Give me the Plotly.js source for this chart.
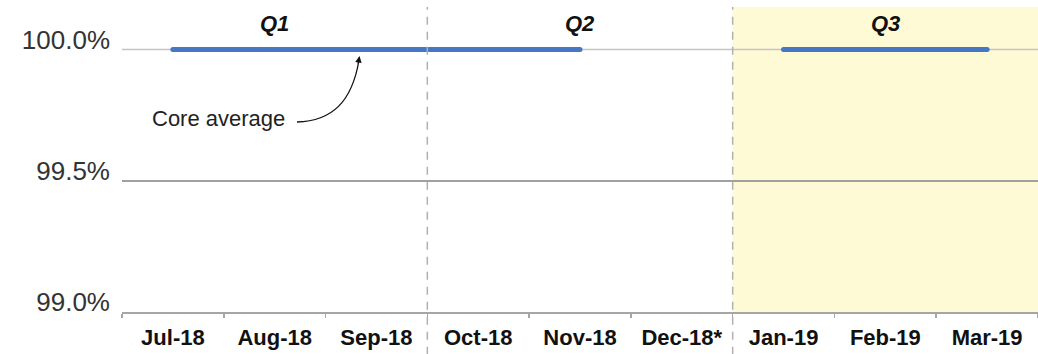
<!DOCTYPE html>
<html>
<head>
<meta charset="utf-8">
<script src="https://cdn.plot.ly/plotly-3.0.1.min.js"></script>
<style>html,body{margin:0;padding:0;background:#fff;}#chart{width:1038px;height:354px;}
#chart path.js-line{stroke-linecap:round;}</style>
</head>
<body>
<div id="chart"></div>
<script>
// ---- data ----
const months = ['Jul-18','Aug-18','Sep-18','Oct-18','Nov-18','Dec-18*','Jan-19','Feb-19','Mar-19'];
const coreAverage = [100.0, 100.0, 100.0, 100.0, 100.0, null, 100.0, 100.0, 100.0];
const quarters = ['Q1','Q2','Q3'];
const quarterLabelMonth = ['Aug-18','Nov-18','Feb-19'];
const yTickVals = [99.0, 99.5, 100.0];
const yTickText = ['99.0%','99.5%','100.0%'];
const annotationText = 'Core average';

// ---- layout helpers (pixel -> paper) ----
const W = 1038, H = 354, L = 122, R = 0, T = 7, B = 42;
const pw = W - L - R, ph = H - T - B;
const px = x => (x - L) / pw;
const py = y => (H - B - y) / ph;

const trace = {
  x: months,
  y: coreAverage,
  type: 'scatter',
  mode: 'lines',
  connectgaps: false,
  line: {color: '#4677c4', width: 5},
  hoverinfo: 'skip',
  showlegend: false
};

const sans = 'Liberation Sans, Arial, sans-serif';

const annotations = quarters.map((q, i) => ({
  x: quarterLabelMonth[i], xref: 'x',
  y: py(23), yref: 'paper',
  text: '<b><i>' + q + '</i></b>',
  showarrow: false,
  font: {family: sans, size: 22, color: '#111'},
  xanchor: 'center', yanchor: 'middle'
}));

annotations.push({
  x: px(218), xref: 'paper', y: py(118), yref: 'paper',
  text: annotationText, showarrow: false,
  font: {family: sans, size: 22, color: '#222'},
  xanchor: 'center', yanchor: 'middle'
});
// arrow head of the curved pointer
annotations.push({
  x: px(359.5), xref: 'paper', y: py(56), yref: 'paper',
  text: '', showarrow: true, arrowhead: 2, arrowsize: 1, arrowwidth: 1.3,
  arrowcolor: '#111', ax: -1.5, ay: 9, axref: 'pixel', ayref: 'pixel',
  standoff: 0, startstandoff: 0
});

const shapes = [
  {type: 'rect', xref: 'x', yref: 'paper', x0: 5.5, x1: 8.5, y0: 0, y1: 1,
   fillcolor: '#fffad6', line: {width: 0}, layer: 'below'},
  {type: 'line', xref: 'x', yref: 'paper', x0: 2.5, x1: 2.5, y0: -0.14, y1: 1,
   line: {color: '#b0b0b0', width: 1.5, dash: '8px,7px'}, layer: 'above'},
  {type: 'line', xref: 'x', yref: 'paper', x0: 5.5, x1: 5.5, y0: -0.14, y1: 1,
   line: {color: '#b0b0b0', width: 1.5, dash: '8px,7px'}, layer: 'above'},
  {type: 'path', xref: 'paper', yref: 'paper',
   path: 'M ' + px(297) + ',' + py(122) + ' C ' + px(332) + ',' + py(121) + ' ' + px(352) + ',' + py(102) + ' ' + px(359) + ',' + py(60),
   line: {color: '#111', width: 1.3}, layer: 'above'},
  // lighter grid line at 100%
  {type: 'line', xref: 'paper', yref: 'y', x0: 0, x1: 1, y0: 100, y1: 100,
   line: {color: '#c4c4c4', width: 1.5}, layer: 'below'}
];

const layout = {
  width: W, height: H,
  margin: {l: L, r: R, t: T, b: B, pad: 0},
  paper_bgcolor: '#ffffff',
  plot_bgcolor: 'rgba(0,0,0,0)',
  showlegend: false,
  xaxis: {
    type: 'category',
    range: [-0.5, 8.5],
    showgrid: false,
    zeroline: false,
    showline: true,
    linecolor: '#a6a6a6',
    linewidth: 1.5,
    ticks: 'outside',
    tickson: 'boundaries',
    ticklen: 4,
    tickcolor: '#a6a6a6',
    tickwidth: 1.5,
    tickfont: {family: sans, size: 22, color: '#111', weight: 'bold'},
    ticklabelstandoff: 5,
    fixedrange: true
  },
  yaxis: {
    range: [99, 100 + 42.5 / 262.5],
    tickvals: [99.0, 99.5],
    ticktext: ['99.0%', '99.5%'],
    showgrid: true,
    gridcolor: '#a0a0a0',
    gridwidth: 1.5,
    zeroline: false,
    showline: false,
    ticks: '',
    showticklabels: false,
    fixedrange: true
  },
  yaxis2: {
    overlaying: 'y',
    side: 'left',
    range: [99, 100 + 42.5 / 262.5],
    tickvals: yTickVals,
    ticktext: yTickText,
    showgrid: false,
    zeroline: false,
    showline: false,
    ticks: '',
    tickfont: {family: sans, size: 26, color: '#333'},
    ticklabelshift: -10,
    ticklabelstandoff: 11,
    fixedrange: true
  },
  shapes: shapes,
  annotations: annotations
};

const labelTrace = {x: months, y: coreAverage, yaxis: 'y2', type: 'scatter', mode: 'none',
  hoverinfo: 'skip', showlegend: false};

Plotly.newPlot('chart', [labelTrace, trace], layout, {displayModeBar: false, staticPlot: true});
</script>
</body>
</html>
